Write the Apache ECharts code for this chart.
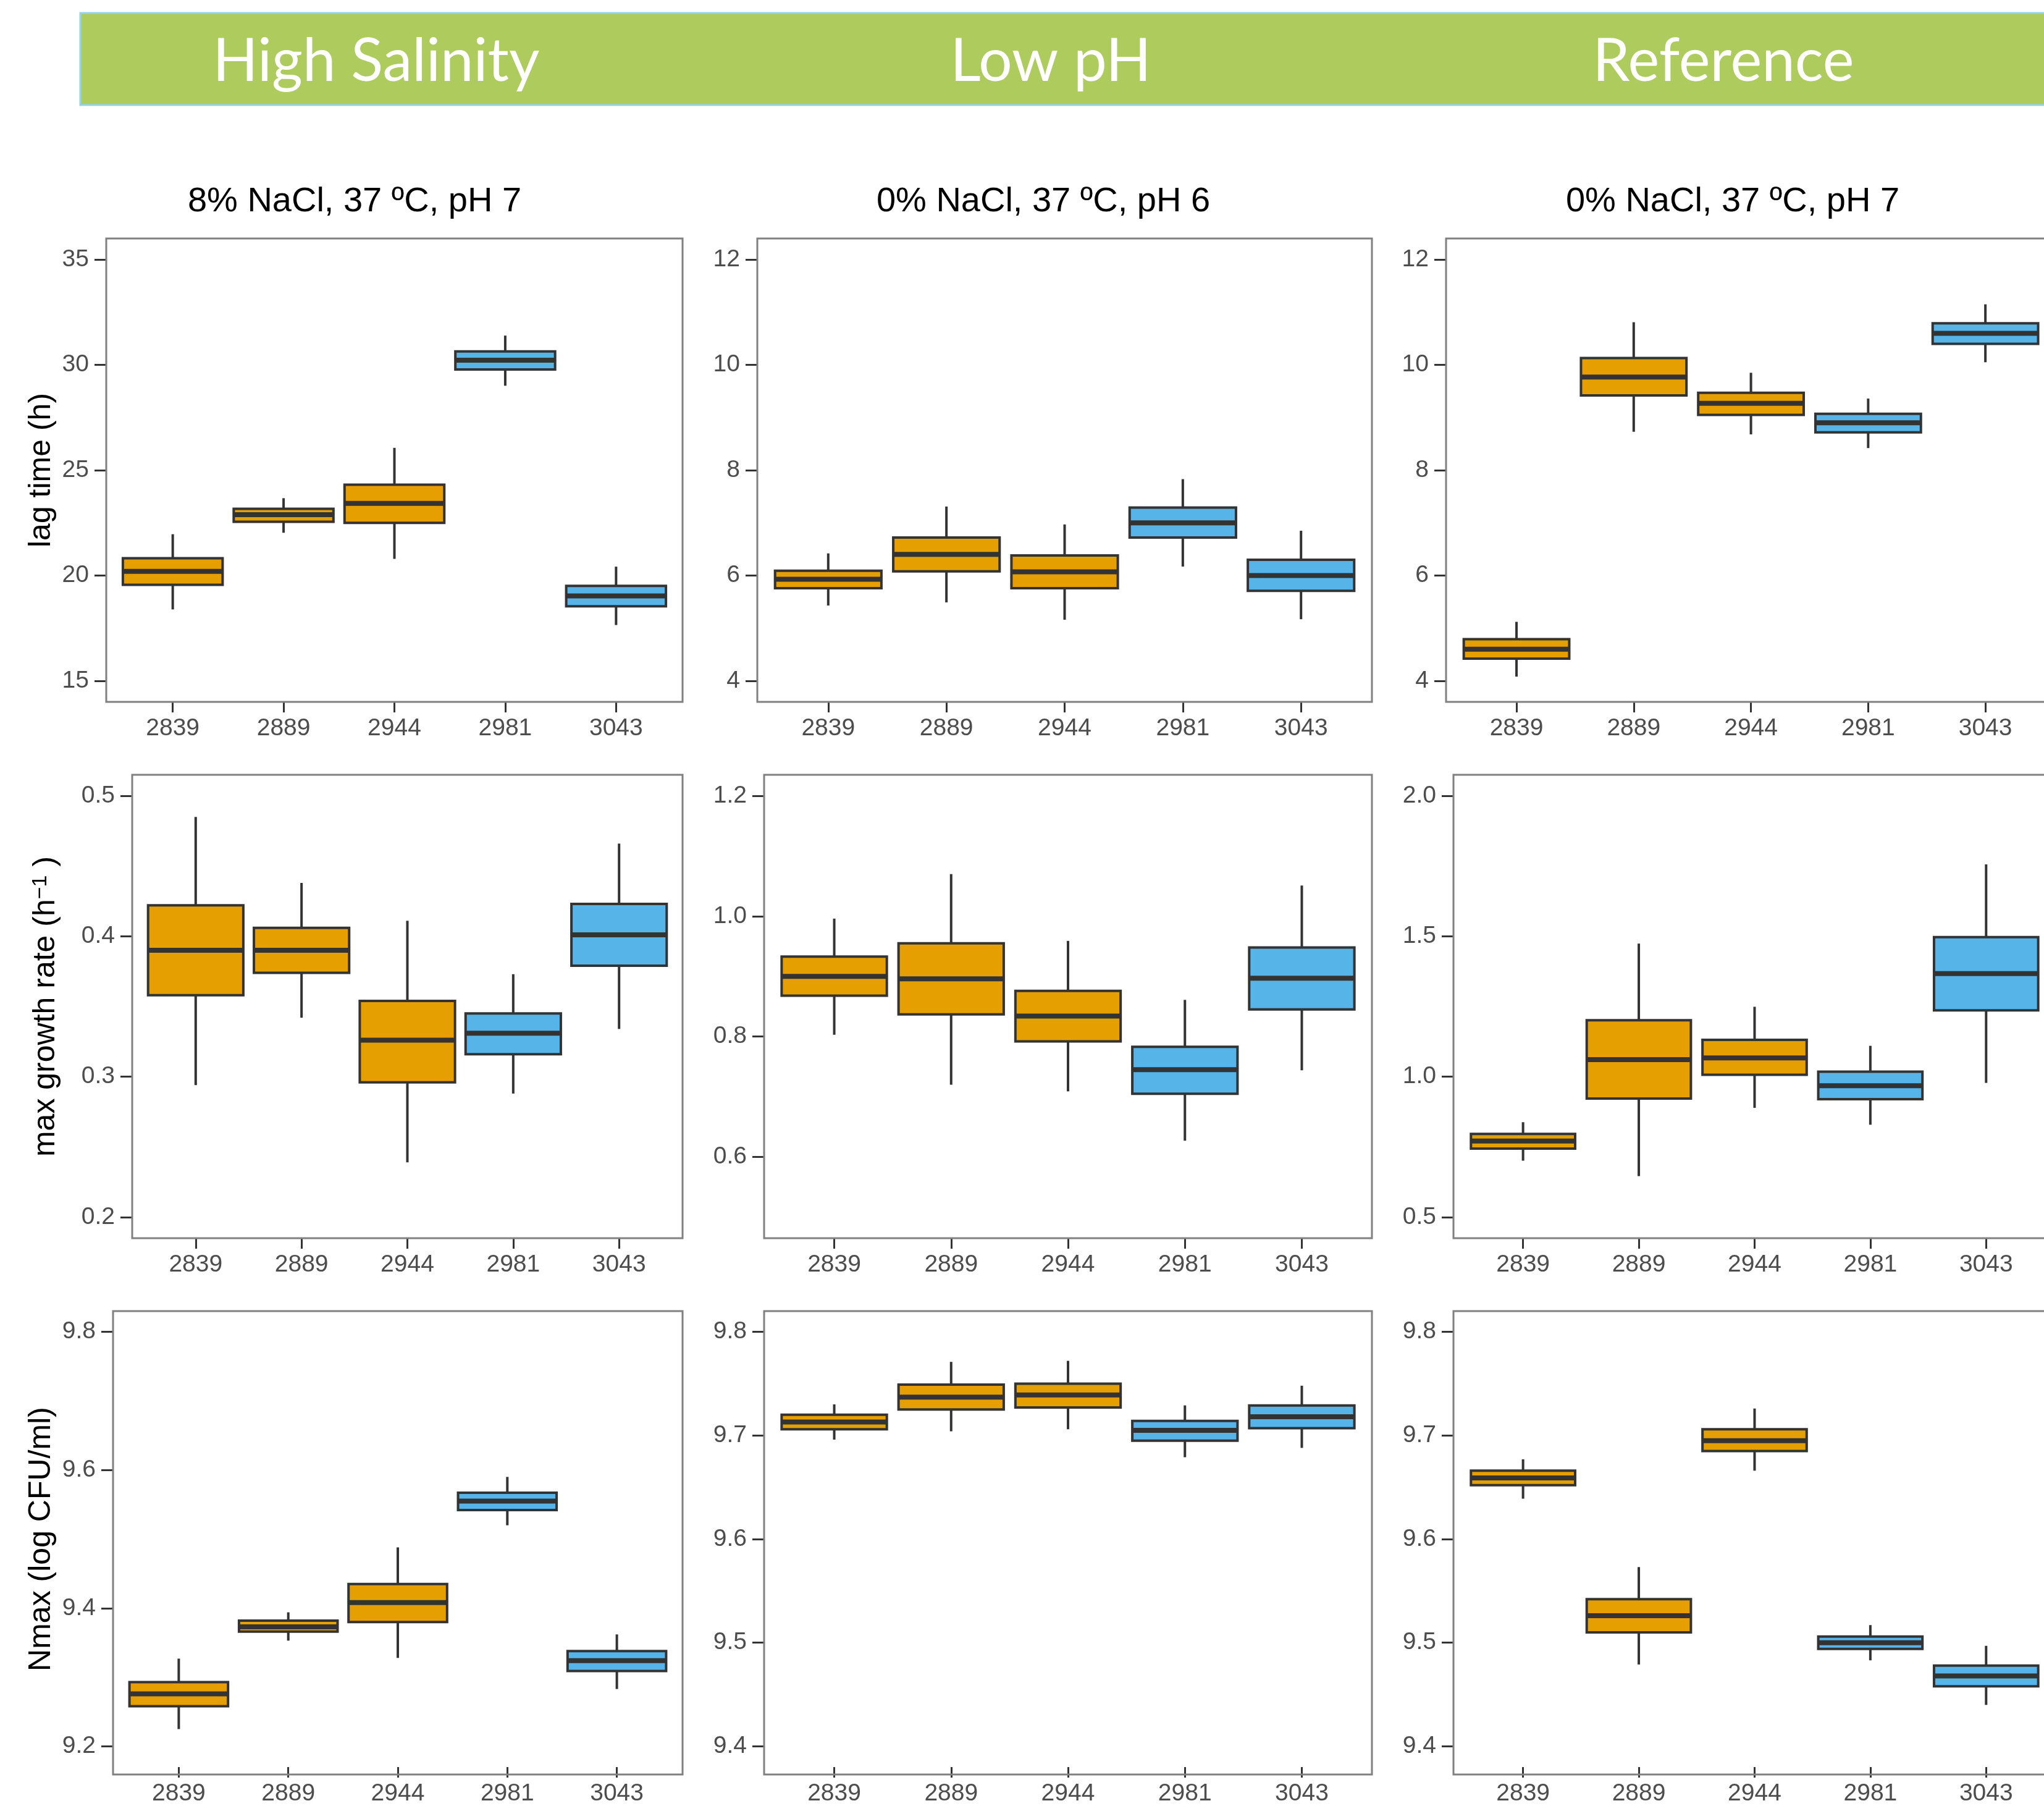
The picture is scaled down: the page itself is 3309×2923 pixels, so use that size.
<!DOCTYPE html>
<html>
<head>
<meta charset="utf-8">
<script src="https://cdn.jsdelivr.net/npm/echarts@6/dist/echarts.min.js"></script>
<style>
html, body { margin: 0; padding: 0; background: #fff; }
#chart { width: 3309px; height: 2923px; }
</style>
</head>
<body>
<div id="chart"></div>
<script>
var strains = ['2839', '2889', '2944', '2981', '3043'];
var strainColors = ['#E69F00', '#E69F00', '#E69F00', '#56B4E9', '#56B4E9'];
var headers = ['High Salinity', 'Low pH', 'Reference'];
var conditions = ['8% NaCl, 37 ºC, pH 7', '0% NaCl, 37 ºC, pH 6', '0% NaCl, 37 ºC, pH 7'];

// each strain: [min, Q1, median, Q3, max]
var lagSalt = [[18.39, 19.56, 20.2, 20.82, 21.96], [22.03, 22.55, 22.89, 23.17, 23.67], [20.79, 22.5, 23.42, 24.31, 26.06], [29.01, 29.78, 30.22, 30.64, 31.39], [17.65, 18.54, 19.03, 19.51, 20.42]];
var lagPH = [[5.43, 5.76, 5.93, 6.09, 6.42], [5.49, 6.08, 6.4, 6.72, 7.31], [5.16, 5.76, 6.07, 6.38, 6.97], [6.17, 6.72, 7.0, 7.29, 7.83], [5.17, 5.71, 6.0, 6.3, 6.85]];
var lagRef = [[4.08, 4.42, 4.6, 4.79, 5.12], [8.73, 9.42, 9.77, 10.13, 10.81], [8.68, 9.05, 9.27, 9.47, 9.85], [8.42, 8.72, 8.9, 9.07, 9.36], [10.05, 10.4, 10.6, 10.79, 11.15]];

var rateSalt = [[0.294, 0.358, 0.390, 0.422, 0.485], [0.342, 0.374, 0.390, 0.406, 0.438], [0.239, 0.296, 0.326, 0.354, 0.411], [0.288, 0.316, 0.331, 0.345, 0.373], [0.334, 0.379, 0.401, 0.423, 0.466]];
var ratePH = [[0.803, 0.868, 0.900, 0.933, 0.996], [0.720, 0.837, 0.896, 0.955, 1.070], [0.709, 0.792, 0.834, 0.876, 0.959], [0.627, 0.705, 0.745, 0.783, 0.861], [0.744, 0.845, 0.897, 0.948, 1.051]];
var rateRef = [[0.701, 0.744, 0.771, 0.796, 0.838], [0.646, 0.922, 1.061, 1.201, 1.474], [0.889, 1.007, 1.067, 1.131, 1.249], [0.829, 0.920, 0.968, 1.018, 1.110], [0.978, 1.236, 1.367, 1.497, 1.756]];

var nmaxSalt = [[9.225, 9.258, 9.276, 9.293, 9.327], [9.353, 9.366, 9.373, 9.382, 9.394], [9.328, 9.380, 9.408, 9.435, 9.488], [9.520, 9.542, 9.555, 9.567, 9.590], [9.283, 9.309, 9.324, 9.338, 9.362]];
var nmaxPH = [[9.696, 9.706, 9.713, 9.720, 9.730], [9.704, 9.725, 9.737, 9.749, 9.771], [9.706, 9.727, 9.739, 9.750, 9.772], [9.679, 9.695, 9.705, 9.714, 9.729], [9.688, 9.707, 9.718, 9.729, 9.748]];
var nmaxRef = [[9.639, 9.652, 9.659, 9.666, 9.677], [9.479, 9.510, 9.526, 9.542, 9.573], [9.666, 9.685, 9.695, 9.706, 9.726], [9.483, 9.494, 9.500, 9.506, 9.517], [9.440, 9.458, 9.468, 9.478, 9.497]];

// tick labels
var lagTicksSalt = [15, 20, 25, 30, 35];
var lagTicksOther = [4, 6, 8, 10, 12];
var rateTicksSalt = [0.2, 0.3, 0.4, 0.5];
var rateTicksPH = [0.6, 0.8, 1.0, 1.2];
var rateTicksRef = [0.5, 1.0, 1.5, 2.0];
var nmaxTicksSalt = [9.2, 9.4, 9.6, 9.8];
var nmaxTicksOther = [9.4, 9.5, 9.6, 9.7, 9.8];

var fontMain = '"Liberation Sans", Arial, sans-serif';

// panel box [left, top, right, bottom] in px, y range, ticks
var panels = [
  { box: [172, 386, 1105, 1136], data: lagSalt, range: [14, 36], ticks: lagTicksSalt, digits: 0, name: 'lag time (h)' },
  { box: [1226, 386, 2221, 1136], data: lagPH, range: [3.6, 12.4], ticks: lagTicksOther, digits: 0 },
  { box: [2341, 386, 3337, 1136], data: lagRef, range: [3.6, 12.4], ticks: lagTicksOther, digits: 0 },
  { box: [214, 1254, 1105, 2004], data: rateSalt, range: [0.185, 0.515], ticks: rateTicksSalt, digits: 1, name: '{n|max growth rate (h}{s|−1}{n| )}' },
  { box: [1237, 1254, 2221, 2004], data: ratePH, range: [0.465, 1.235], ticks: rateTicksPH, digits: 1 },
  { box: [2353, 1254, 3337, 2004], data: rateRef, range: [0.425, 2.075], ticks: rateTicksRef, digits: 1 },
  { box: [183, 2122, 1105, 2872], data: nmaxSalt, range: [9.17, 9.83], ticks: nmaxTicksSalt, digits: 1, name: 'Nmax (log CFU/ml)' },
  { box: [1237, 2122, 2221, 2872], data: nmaxPH, range: [9.38, 9.82], ticks: nmaxTicksOther, digits: 1 },
  { box: [2353, 2122, 3337, 2872], data: nmaxRef, range: [9.38, 9.82], ticks: nmaxTicksOther, digits: 1 }
];

function renderBox(params, api) {
  var i = api.value(0);
  var lo = api.coord([i, api.value(1)]);
  var q1 = api.coord([i, api.value(2)]);
  var md = api.coord([i, api.value(3)]);
  var q3 = api.coord([i, api.value(4)]);
  var hi = api.coord([i, api.value(5)]);
  var half = api.size([1, 0])[0] * 0.45;
  var cx = md[0];
  var ln = { stroke: '#333333', lineWidth: 4 };
  return {
    type: 'group',
    children: [
      { type: 'line', shape: { x1: cx, y1: hi[1], x2: cx, y2: q3[1] }, style: ln },
      { type: 'line', shape: { x1: cx, y1: q1[1], x2: cx, y2: lo[1] }, style: ln },
      { type: 'rect', shape: { x: cx - half, y: q3[1], width: 2 * half, height: q1[1] - q3[1] },
        style: { fill: strainColors[i], stroke: '#333333', lineWidth: 4 } },
      { type: 'line', shape: { x1: cx - half, y1: md[1], x2: cx + half, y2: md[1] },
        style: { stroke: '#333333', lineWidth: 8 } }
    ]
  };
}

var grids = [], xAxes = [], yAxes = [], series = [], graphics = [];

// green header band
graphics.push({
  type: 'rect', shape: { x: 130, y: 21, width: 3300, height: 149 },
  style: { fill: '#AECB5E', stroke: '#93D3EC', lineWidth: 3 }
});
var headerX = [609, 1701, 2790];
var titleX = [574, 1689, 2805];
headers.forEach(function (h, k) {
  graphics.push({
    type: 'text', x: headerX[k], y: 100,
    style: { text: h, fill: '#ffffff', font: '96px Lato, "Open Sans", sans-serif',
      textAlign: 'center', textVerticalAlign: 'middle', align: 'center', verticalAlign: 'middle' }
  });
  graphics.push({
    type: 'text', x: titleX[k], y: 327,
    style: { text: conditions[k], fill: '#000000', font: '56px ' + fontMain,
      textAlign: 'center', textVerticalAlign: 'middle', align: 'center', verticalAlign: 'middle' }
  });
});

panels.forEach(function (p, k) {
  var L = p.box[0], T = p.box[1], R = p.box[2], B = p.box[3];
  var unit = (R - L) / 5.2;
  grids.push({ left: L + 0.1 * unit, top: T, width: (R - L) - 0.2 * unit, height: B - T });
  graphics.push({
    type: 'rect', z: 100, shape: { x: L, y: T, width: R - L, height: B - T },
    style: { fill: 'none', stroke: '#808080', lineWidth: 3 }
  });
  xAxes.push({
    type: 'category', gridIndex: k, data: strains, boundaryGap: true,
    axisLine: { show: false },
    axisTick: { show: true, alignWithLabel: true, length: 17, lineStyle: { color: '#333333', width: 3 } },
    axisLabel: { fontSize: 39, color: '#4d4d4d', fontFamily: fontMain, margin: 24 },
    splitLine: { show: false }
  });
  var digits = p.digits;
  var y = {
    type: 'value', gridIndex: k, min: p.range[0], max: p.range[1],
    offset: 0.1 * unit,
    axisLine: { show: false },
    axisTick: { show: true, length: 19, customValues: p.ticks, lineStyle: { color: '#333333', width: 3 } },
    axisLabel: { fontSize: 39, color: '#4d4d4d', fontFamily: fontMain, margin: 28, customValues: p.ticks,
      formatter: function (v) { return Number(v).toFixed(digits); } },
    splitLine: { show: false }
  };
  if (p.name) {
    y.name = p.name;
    y.nameLocation = 'middle';
    y.nameRotate = 90;
    y.nameGap = L - 92;
    y.nameTextStyle = {
      fontSize: 50, color: '#000000', fontFamily: fontMain,
      rich: {
        n: { fontSize: 50, color: '#000000', fontFamily: fontMain },
        s: { fontSize: 34, color: '#000000', fontFamily: fontMain, verticalAlign: 'top' }
      }
    };
    if (k === 3) y.nameGap = L - 99;
  }
  yAxes.push(y);
  series.push({
    type: 'custom', xAxisIndex: k, yAxisIndex: k,
    renderItem: renderBox,
    encode: { x: 0, y: [1, 2, 3, 4, 5] },
    data: p.data.map(function (d, i) { return [i].concat(d); })
  });
});

var chart = echarts.init(document.getElementById('chart'));
chart.setOption({
  backgroundColor: '#ffffff',
  animation: false,
  grid: grids,
  xAxis: xAxes,
  yAxis: yAxes,
  series: series,
  graphic: graphics
});
</script>
</body>
</html>
